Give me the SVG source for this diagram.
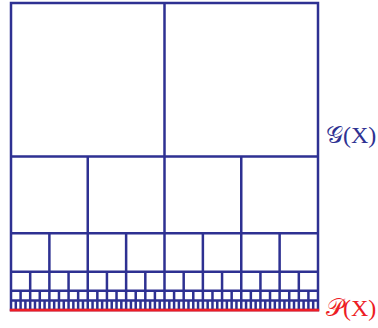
<svg xmlns="http://www.w3.org/2000/svg" width="378" height="328" viewBox="0 0 378 328">
<style>
.g{fill:none;stroke:#2e3192;stroke-width:2.5}
.r{fill:none;stroke:#ed1c24;stroke-width:2.8}
.lbl{font-family:"Liberation Serif","DejaVu Serif",serif;font-size:24px}
</style>
<rect width="378" height="328" fill="#fff"/>
<g id="grid">
<rect class="g" x="11" y="3" width="307" height="307"/>
<path class="g" d="M11 156.5H318M11 233.25H318M11 271.625H318M11 290.8125H318M11 300.406H318"/>
<path class="g" d="M164.5 3V310"/>
<path class="g" d="M87.75 156.5V310M241.25 156.5V310"/>
<path class="g" d="M49.375 233.25V310M126.125 233.25V310M202.875 233.25V310M279.625 233.25V310"/>
<path class="g" d="M30.188 271.625V310M68.563 271.625V310M106.938 271.625V310M145.313 271.625V310M183.688 271.625V310M222.063 271.625V310M260.438 271.625V310M298.813 271.625V310"/>
<path class="g" d="M20.594 290.81V310M39.781 290.81V310M58.969 290.81V310M78.156 290.81V310M97.344 290.81V310M116.531 290.81V310M135.719 290.81V310M154.906 290.81V310M174.094 290.81V310M193.281 290.81V310M212.469 290.81V310M231.656 290.81V310M250.844 290.81V310M270.031 290.81V310M289.219 290.81V310M308.406 290.81V310"/>
<path class="g" d="M15.797 300.4V310M25.391 300.4V310M34.984 300.4V310M44.578 300.4V310M54.172 300.4V310M63.766 300.4V310M73.359 300.4V310M82.953 300.4V310M92.547 300.4V310M102.141 300.4V310M111.734 300.4V310M121.328 300.4V310M130.922 300.4V310M140.516 300.4V310M150.109 300.4V310M159.703 300.4V310M169.297 300.4V310M178.891 300.4V310M188.484 300.4V310M198.078 300.4V310M207.672 300.4V310M217.266 300.4V310M226.859 300.4V310M236.453 300.4V310M246.047 300.4V310M255.641 300.4V310M265.234 300.4V310M274.828 300.4V310M284.422 300.4V310M294.016 300.4V310M303.609 300.4V310M313.203 300.4V310"/>
<path class="r" d="M9.8 310.2H319.2"/>
</g>
<g id="labels">
<text class="lbl" x="326" y="143" fill="#2e3192">𝒢(X)</text>
<text class="lbl" x="326" y="316" fill="#ed1c24">𝒫(X)</text>
</g>
</svg>
